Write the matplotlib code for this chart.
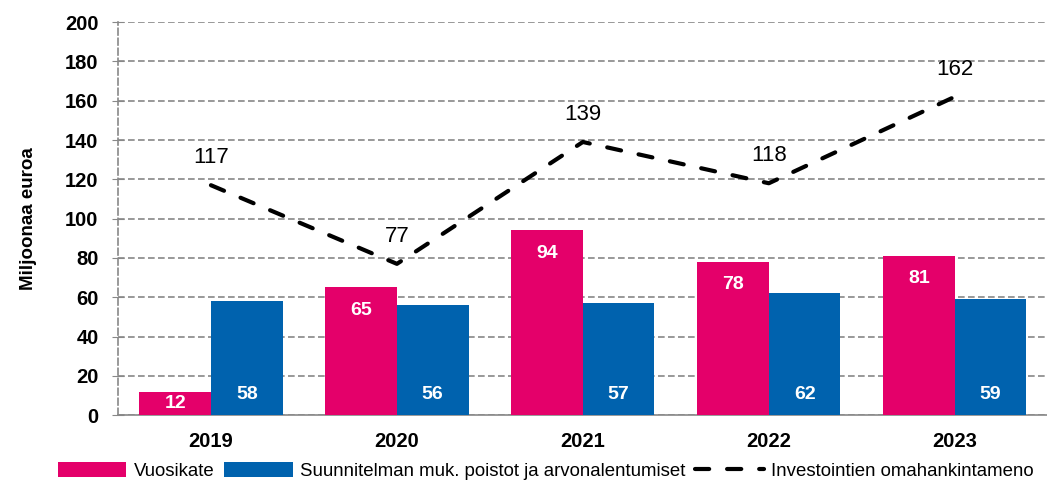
import numpy as np
import matplotlib
matplotlib.use("Agg")
import matplotlib.pyplot as plt

plt.rcParams['font.family'] = ['Liberation Sans', 'DejaVu Sans']

vuodet = ["2019", "2020", "2021", "2022", "2023"]
vuosikate = [12, 65, 94, 78, 81]
poistot = [58, 56, 57, 62, 59]
investoinnit = [117, 77, 139, 118, 162]

pink = "#E4006A"
blue = "#0062AE"

fig = plt.figure(figsize=(10.47, 4.8), dpi=100)
ax = fig.add_axes([0.1127, 0.135, 0.888, 0.819])

x = np.arange(len(vuodet))
w = 0.385
b1 = ax.bar(x - w/2, vuosikate, w, color=pink, label="Vuosikate", zorder=3)
b2 = ax.bar(x + w/2, poistot, w, color=blue,
            label="Suunnitelman muk. poistot ja arvonalentumiset", zorder=3)
l1, = ax.plot(x, investoinnit, color="black", lw=3, dashes=(3.4, 4.3),
              dash_capstyle="round",
              label="Investointien omahankintameno", zorder=4)

# pink labels near top of bar, blue labels near base
for xi, v in zip(x - w/2, vuosikate):
    y = v - 11.5 if v > 25 else v / 2
    ax.text(xi, y, str(v), ha="center", va="center",
            color="white", fontsize=14, fontweight="bold", zorder=5)
for xi, v in zip(x + w/2, poistot):
    ax.text(xi, 10.5, str(v), ha="center", va="center",
            color="white", fontsize=14, fontweight="bold", zorder=5)
for xi, v in zip(x, investoinnit):
    ax.text(xi, v + 14, str(v), ha="center", va="center",
            color="black", fontsize=16, zorder=5)

ax.set_xlim(-0.5, 4.5)
ax.set_ylim(0, 200)
ax.set_yticks(range(0, 201, 20))
ax.set_xticks(x)
ax.set_xticklabels(vuodet, fontsize=14.5, fontweight="bold")
for t in ax.get_yticklabels():
    t.set_fontsize(14.5)
    t.set_fontweight("bold")
ax.tick_params(axis="y", direction="inout", length=8, color="#888888", pad=10)
ax.tick_params(axis="x", length=0, pad=12)

ax.grid(axis="y", color="#888888", linestyle=(0, (4, 2)), lw=1.2, zorder=0)
for s in ["top", "right"]:
    ax.spines[s].set_visible(False)
ax.spines["left"].set_color("#888888")
ax.spines["left"].set_linestyle((0, (4, 2)))
ax.spines["left"].set_linewidth(1.2)
ax.spines["bottom"].set_color("#888888")
ax.spines["bottom"].set_linewidth(1.2)

ax.set_ylabel("Miljoonaa euroa", fontsize=13.5, fontweight="bold", labelpad=20)

ax.legend(handles=[b1, b2, l1], loc="upper center", bbox_to_anchor=(0.46, -0.1),
          ncol=3, frameon=False, fontsize=13.4, handlelength=3.7, handleheight=0.9,
          columnspacing=0.5, handletextpad=0.4, borderaxespad=0)

fig.savefig("out.png", dpi=100)
